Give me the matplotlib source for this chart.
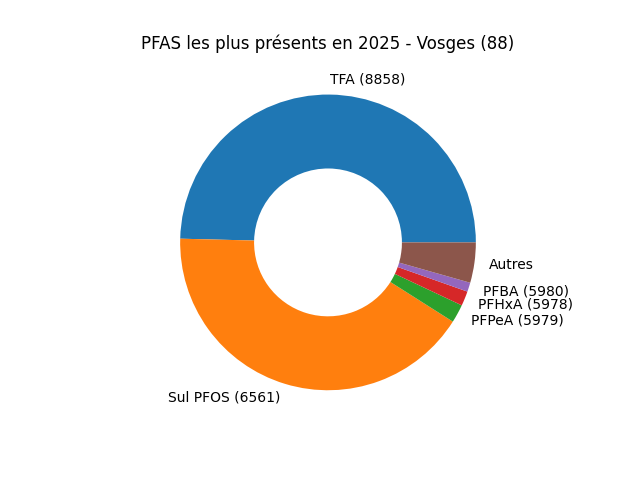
import matplotlib
matplotlib.use("Agg")
import matplotlib.pyplot as plt

labels = ["TFA (8858)", "Sul PFOS (6561)", "PFPeA (5979)", "PFHxA (5978)", "PFBA (5980)", "Autres"]
values = [49.6, 41.4, 2.0, 1.6, 1.0, 4.4]

fig, ax = plt.subplots(figsize=(6.4, 4.8), dpi=100)
ax.pie(values, labels=labels, wedgeprops=dict(width=0.5))
ax.set_title("PFAS les plus présents en 2025 - Vosges (88)")
fig.savefig("out.png")
